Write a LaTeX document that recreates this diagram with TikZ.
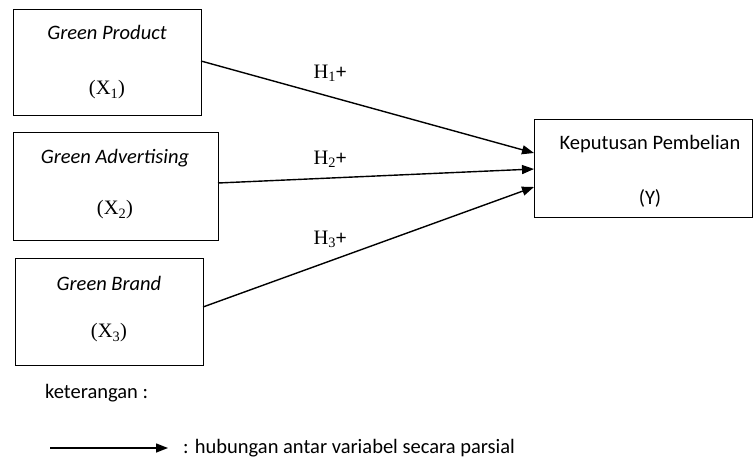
\documentclass[tikz,border=0pt]{standalone}
\usepackage{fontspec}
\setmainfont{Carlito}
\newfontfamily\serifx{Liberation Serif}
\usetikzlibrary{arrows.meta}
\newcommand{\vx}[1]{{\serifx (X\textsubscript{#1})}}
\newcommand{\hx}[1]{{\serifx H\textsubscript{#1}}+}
\begin{document}
\begin{tikzpicture}[x=1pt,y=-1pt,
  box/.style={draw,line width=1.4pt},
  lbl/.style={font=\fontsize{20.5}{24}\selectfont,inner sep=0pt},
  conn/.style={line width=1.4pt,-{Triangle[length=12pt,width=9pt]}}]
\useasboundingbox (0,0) rectangle (753,466);
% boxes
\node[box,minimum width=188pt,minimum height=106pt,anchor=north west] (x1) at (13,9) {};
\node[box,minimum width=205pt,minimum height=108pt,anchor=north west] (x2) at (13,132) {};
\node[box,minimum width=188pt,minimum height=107pt,anchor=north west] (x3) at (15,258) {};
\node[box,minimum width=218pt,minimum height=98pt,anchor=north west] (y) at (534,119) {};
% texts
\node[lbl] (t1) at (107,32) {\itshape Green Product};
\node[lbl] (s1) at (107,90) {\vx{1}};
\node[lbl] (t2) at (115,158) {\itshape Green Advertising};
\node[lbl] (s2) at (115,210) {\vx{2}};
\node[lbl] (t3) at (109,283) {\itshape Green Brand};
\node[lbl] (s3) at (109,333) {\vx{3}};
\node[lbl] (ty) at (650,144) {Keputusan Pembelian};
\node[lbl] (sy) at (650,198) {(Y)};
% connectors
\coordinate (a1) at (201,61);
\coordinate (a2) at (218,183);
\coordinate (a3) at (203,307);
\coordinate (b1) at (534,153);
\coordinate (b2) at (534,169);
\coordinate (b3) at (534,187);
\draw[conn] (a1) -- (b1);
\draw[conn] (a2) -- (b2);
\draw[conn] (a3) -- (b3);
\node[lbl] (h1) at (330,73) {\hx{1}};
\node[lbl] (h2) at (330,159) {\hx{2}};
\node[lbl] (h3) at (330,239) {\hx{3}};
% legend
\node[lbl,anchor=west] (k) at (45,393) {keterangan :};
\coordinate (l1) at (50,448);
\coordinate (l2) at (168,448);
\draw[conn] (l1) -- (l2);
\node[lbl,anchor=west] (lt) at (183,448) {: hubungan antar variabel secara parsial};
\end{tikzpicture}
\end{document}
